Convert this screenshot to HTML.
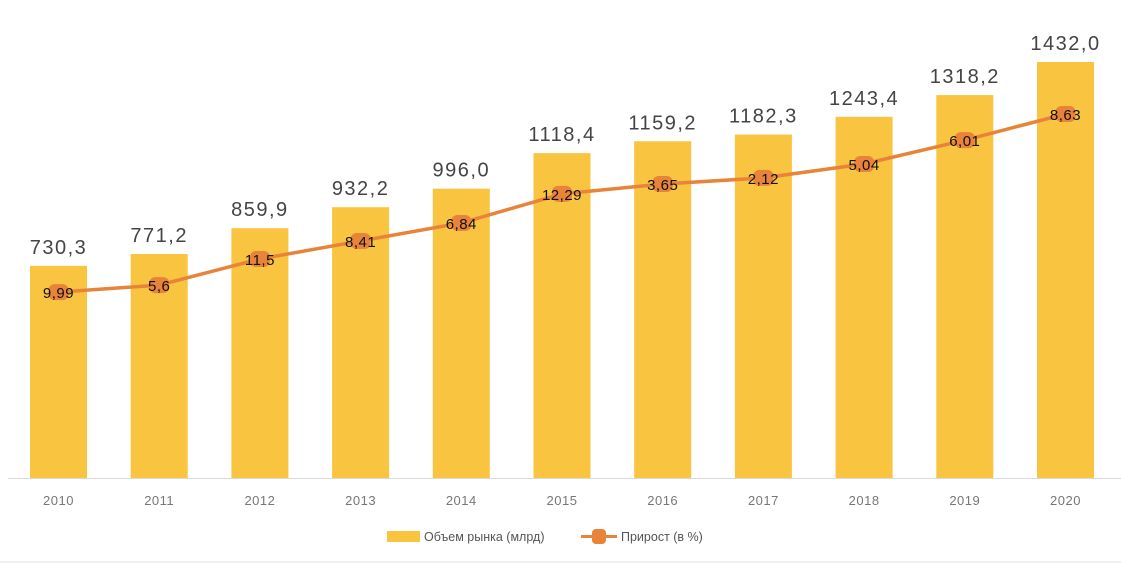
<!DOCTYPE html>
<html><head><meta charset="utf-8"><style>
html,body{margin:0;padding:0;background:#fff;}
body{width:1121px;height:563px;overflow:hidden;font-family:"Liberation Sans",sans-serif;}
</style></head><body>
<svg id="chart" width="1121" height="563" xmlns="http://www.w3.org/2000/svg">
<line x1="8" y1="478.5" x2="1121" y2="478.5" stroke="#d9d9d9" stroke-width="1"/>
<line x1="0" y1="562" x2="1121" y2="562" stroke="#e0e0e0" stroke-width="1"/>
<g id="bars"></g>
<g id="line"></g>
<g id="legend">
 <rect x="387" y="531" width="33" height="11" fill="#F9C440"/>
 <text x="424" y="541" font-size="12.5" fill="#555">Объем рынка (млрд)</text>
 <line x1="581" y1="536.5" x2="617" y2="536.5" stroke="#E8833A" stroke-width="3"/>
 <rect x="592" y="529" width="14" height="15" rx="4" fill="#E8833A"/>
 <text x="621" y="541" font-size="12.5" fill="#555">Прирост (в %)</text>
</g>
</svg>
<script>
const years=["2010","2011","2012","2013","2014","2015","2016","2017","2018","2019","2020"];
const volume=[730.3,771.2,859.9,932.2,996.0,1118.4,1159.2,1182.3,1243.4,1318.2,1432.0];
const volumeLabels=["730,3","771,2","859,9","932,2","996,0","1118,4","1159,2","1182,3","1243,4","1318,2","1432,0"];
const growthPlot=[640,664,754,816,878,978,1012,1033,1081,1163,1253];
const growthLabels=["9,99","5,6","11,5","8,41","6,84","12,29","3,65","2,12","5,04","6,01","8,63"];
const NS="http://www.w3.org/2000/svg";
const base=478, k=0.2905;
function xC(i){return 58.5+i*100.7;}
function yV(v){return base-v*k;}
function mk(t,a){const e=document.createElementNS(NS,t);for(const n in a)e.setAttribute(n,a[n]);return e;}
const gb=document.getElementById('bars'), gl=document.getElementById('line');
years.forEach((y,i)=>{
 const b=mk('rect',{x:xC(i)-28.5,y:yV(volume[i]),width:57,height:base-yV(volume[i]),fill:'#F9C440'});
 
 
 gb.appendChild(b);
 const t=mk('text',{x:xC(i),y:yV(volume[i])-12,'text-anchor':'middle','font-size':'20',fill:'#444','letter-spacing':'1.5'});
 t.textContent=volumeLabels[i];
 
 
 gb.appendChild(t);
 const a=mk('text',{x:xC(i),y:505,'text-anchor':'middle','font-size':'13',fill:'#777','letter-spacing':'0.5'});
 a.textContent=y;
 
 
 gb.appendChild(a);
});
const pts=growthPlot.map((v,i)=>xC(i)+','+yV(v)).join(' ');
const pl=mk('polyline',{points:pts,fill:'none',stroke:'#E8833A','stroke-width':'3.5','stroke-linejoin':'round'});


gl.appendChild(pl);
growthPlot.forEach((v,i)=>{
 const m=mk('rect',{x:xC(i)-10,y:yV(v)-8,width:20,height:16,rx:6,fill:'#E8833A'});
 
 
 gl.appendChild(m);
 const t=mk('text',{x:xC(i),y:yV(v)+6,'text-anchor':'middle','font-size':'15',fill:'#111','letter-spacing':'0.5'});
 t.textContent=growthLabels[i];
 
 
 gl.appendChild(t);
});
</script>
</body></html>
